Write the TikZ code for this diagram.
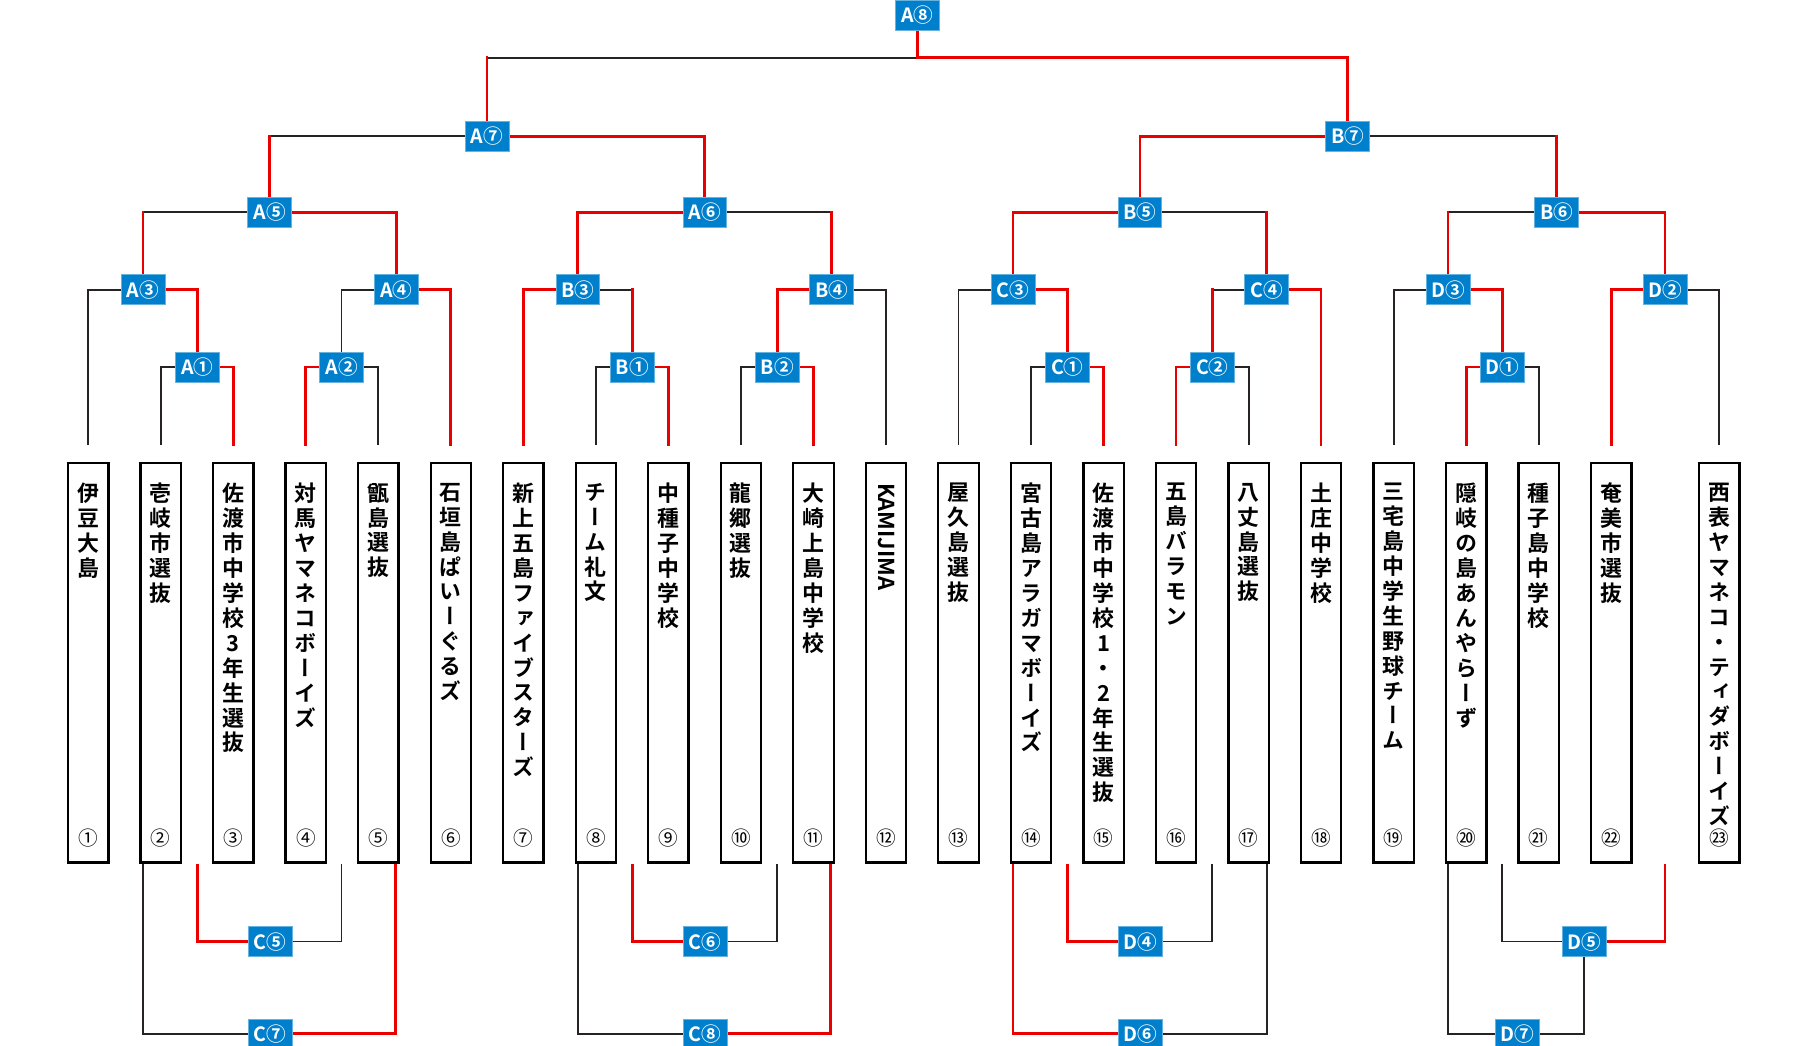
\documentclass[tikz,border=0pt]{standalone}
\usepackage{fontspec}
\newfontfamily\jpv{Noto Sans CJK JP}[RawFeature=+vert,BoldFont={Noto Sans CJK JP Bold}]
\newfontfamily\jph{Noto Sans CJK JP}[BoldFont={Noto Sans CJK JP Bold}]
\definecolor{lbl}{RGB}{0,128,204}
\definecolor{rd}{RGB}{235,0,0}
\definecolor{bk}{RGB}{40,35,35}
\tikzset{
  R/.style={draw=rd,line width=2.4pt,line cap=rect},
  K/.style={draw=bk,line width=1.6pt,line cap=rect},
  lab/.style={fill=lbl,draw=lbl!60!white,line width=0.6pt,text=white,minimum width=38pt,minimum height=26pt,inner sep=0pt,font=\jph\bfseries\fontsize{17}{17}\selectfont},
  team/.style={draw=black,line width=2pt,minimum width=35pt,minimum height=346pt,inner sep=0pt},
  tname/.style={anchor=north,align=center,inner sep=0pt,font=\jpv\bfseries\fontsize{19}{21.6}\selectfont},
  tnum/.style={inner sep=0pt,font=\jph\fontsize{17}{17}\selectfont}
}
\newcommand{\eg}[4]{\draw[#3] (#1) -- (#1 -| #2); \draw[#4] (#1 -| #2) -- (#2);}
\begin{document}
\begin{tikzpicture}[x=1pt,y=-1pt]
\useasboundingbox (0,0) rectangle (1560,906);
% columns
\foreach \i in {1,...,22}{\pgfmathsetmacro\cx{76.5+(\i-1)*62.85}
  \coordinate (t\i) at (\cx,385); \coordinate (c\i) at (\cx,574.5);}
\coordinate (t23) at (1490,385); \coordinate (c23) at (1490,574.5);
% match coordinates
\coordinate (A1) at (171,318); \coordinate (A2) at (296,318);
\coordinate (B1) at (548,318); \coordinate (B2) at (673.6,318);
\coordinate (C1) at (925,318); \coordinate (C2) at (1050.7,318);
\coordinate (D1) at (1302,318);
\coordinate (A3) at (124,251); \coordinate (A4) at (343.4,251);
\coordinate (B3) at (500.8,251); \coordinate (B4) at (720.7,251);
\coordinate (C3) at (877.9,251); \coordinate (C4) at (1097.8,251);
\coordinate (D3) at (1255,251); \coordinate (D2) at (1443,251);
\coordinate (A5) at (233.7,184); \coordinate (A6) at (610.8,184);
\coordinate (B5) at (987.9,184); \coordinate (B6) at (1349,184);
\coordinate (A7) at (422,118); \coordinate (B7) at (1168,118);
\coordinate (A8) at (795,13); \coordinate (top) at (795,50);
\coordinate (C5) at (234,816); \coordinate (C7) at (234,896);
\coordinate (C6) at (611,816); \coordinate (C8) at (611,896);
\coordinate (D4) at (988,816); \coordinate (D6) at (988,896);
\coordinate (D5) at (1373,816); \coordinate (D7) at (1315,896);
\foreach \n/\x in {l5a/171,l5b/296,l7a/124,l7b/343,l6a/548,l6b/673.6,l8a/501,l8b/720,
  m4a/925,m4b/1050.7,m6a/878,m6b/1098,m5a/1302,m5b/1443,m7a/1255}
  {\coordinate (\n) at (\x,750);}
% top brackets
\eg{A1}{t2}{K}{K} \eg{A1}{t3}{R}{R}
\eg{A2}{t4}{R}{R} \eg{A2}{t5}{K}{K}
\eg{A3}{t1}{K}{K} \eg{A3}{A1}{R}{R}
\eg{A4}{A2}{K}{K} \eg{A4}{t6}{R}{R}
\eg{A5}{A3}{K}{R} \eg{A5}{A4}{R}{R}
\eg{B1}{t8}{K}{K} \eg{B1}{t9}{R}{R}
\eg{B2}{t10}{K}{K} \eg{B2}{t11}{R}{R}
\eg{B3}{t7}{R}{R} \eg{B3}{B1}{K}{R}
\eg{B4}{B2}{R}{R} \eg{B4}{t12}{K}{K}
\eg{A6}{B3}{R}{R} \eg{A6}{B4}{K}{R}
\eg{A7}{A5}{K}{R} \eg{A7}{A6}{R}{R}
\eg{C1}{t14}{K}{K} \eg{C1}{t15}{R}{R}
\eg{C2}{t16}{R}{R} \eg{C2}{t17}{K}{K}
\eg{C3}{t13}{K}{K} \eg{C3}{C1}{R}{R}
\eg{C4}{C2}{K}{R} \eg{C4}{t18}{R}{R}
\eg{B5}{C3}{R}{R} \eg{B5}{C4}{K}{R}
\eg{D1}{t20}{R}{R} \eg{D1}{t21}{K}{K}
\eg{D3}{t19}{K}{K} \eg{D3}{D1}{R}{R}
\eg{D2}{t22}{R}{R} \eg{D2}{t23}{K}{K}
\eg{B6}{D3}{K}{R} \eg{B6}{D2}{R}{R}
\eg{B7}{B5}{R}{R} \eg{B7}{B6}{K}{R}
\draw[R] (A8) -- (top);
\eg{top}{A7}{K}{R} \eg{top}{B7}{R}{R}
% bottom brackets
\eg{C5}{l5a}{R}{R} \eg{C5}{l5b}{K}{K}
\eg{C7}{l7a}{K}{K} \eg{C7}{l7b}{R}{R}
\eg{C6}{l6a}{R}{R} \eg{C6}{l6b}{K}{K}
\eg{C8}{l8a}{K}{K} \eg{C8}{l8b}{R}{R}
\eg{D4}{m4a}{R}{R} \eg{D4}{m4b}{K}{K}
\eg{D6}{m6a}{R}{R} \eg{D6}{m6b}{K}{K}
\eg{D5}{m5a}{K}{K} \eg{D5}{m5b}{R}{R}
\eg{D7}{m7a}{K}{K} \eg{D7}{D5}{K}{K}
% labels
\foreach \m/\t in {A1/A①,A2/A②,A3/A③,A4/A④,A5/A⑤,A6/A⑥,A7/A⑦,A8/A⑧,
  B1/B①,B2/B②,B3/B③,B4/B④,B5/B⑤,B6/B⑥,B7/B⑦,
  C1/C①,C2/C②,C3/C③,C4/C④,C5/C⑤,C6/C⑥,C7/C⑦,C8/C⑧,
  D1/D①,D2/D②,D3/D③,D4/D④,D5/D⑤,D6/D⑥,D7/D⑦}
  {\node[lab] (n\m) at (\m) {\t};}
% team boxes
\foreach \i/\num in {1/①,2/②,3/③,4/④,5/⑤,6/⑥,7/⑦,8/⑧,9/⑨,10/⑩,11/⑪,12/⑫,13/⑬,14/⑭,15/⑮,16/⑯,17/⑰,18/⑱,19/⑲,20/⑳,21/㉑,22/㉒,23/㉓}
  {\node[team] (box\i) at (c\i) {};
   \node[tnum] (num\i) at ([yshift=-152pt]c\i) {\num};}
\newcommand{\tn}[2]{\node[tname] (tx#1) at ([yshift=156pt]c#1) {#2};}
\tn{1}{伊\\豆\\大\\島}
\tn{2}{壱\\岐\\市\\選\\抜}
\tn{3}{佐\\渡\\市\\中\\学\\校\\3\\年\\生\\選\\抜}
\tn{4}{対\\馬\\ヤ\\マ\\ネ\\コ\\ボ\\ー\\イ\\ズ}
\tn{5}{甑\\島\\選\\抜}
\tn{6}{石\\垣\\島\\ぱ\\い\\ー\\ぐ\\る\\ズ}
\tn{7}{新\\上\\五\\島\\フ\\ァ\\イ\\ブ\\ス\\タ\\ー\\ズ}
\tn{8}{チ\\ー\\ム\\礼\\文}
\tn{9}{中\\種\\子\\中\\学\\校}
\tn{10}{龍\\郷\\選\\抜}
\tn{11}{大\\崎\\上\\島\\中\\学\\校}
\node[anchor=west,rotate=-90,inner sep=0pt,font=\jph\bfseries\fontsize{19}{19}\selectfont] (tx12) at ([yshift=156pt]c12) {KAMIJIMA};
\tn{13}{屋\\久\\島\\選\\抜}
\tn{14}{宮\\古\\島\\ア\\ラ\\ガ\\マ\\ボ\\ー\\イ\\ズ}
\tn{15}{佐\\渡\\市\\中\\学\\校\\1\\・\\2\\年\\生\\選\\抜}
\tn{16}{五\\島\\バ\\ラ\\モ\\ン}
\tn{17}{八\\丈\\島\\選\\抜}
\tn{18}{土\\庄\\中\\学\\校}
\tn{19}{三\\宅\\島\\中\\学\\生\\野\\球\\チ\\ー\\ム}
\tn{20}{隠\\岐\\の\\島\\あ\\ん\\や\\ら\\ー\\ず}
\tn{21}{種\\子\\島\\中\\学\\校}
\tn{22}{奄\\美\\市\\選\\抜}
\tn{23}{西\\表\\ヤ\\マ\\ネ\\コ\\・\\テ\\ィ\\ダ\\ボ\\ー\\イ\\ズ}
\end{tikzpicture}
\end{document}
